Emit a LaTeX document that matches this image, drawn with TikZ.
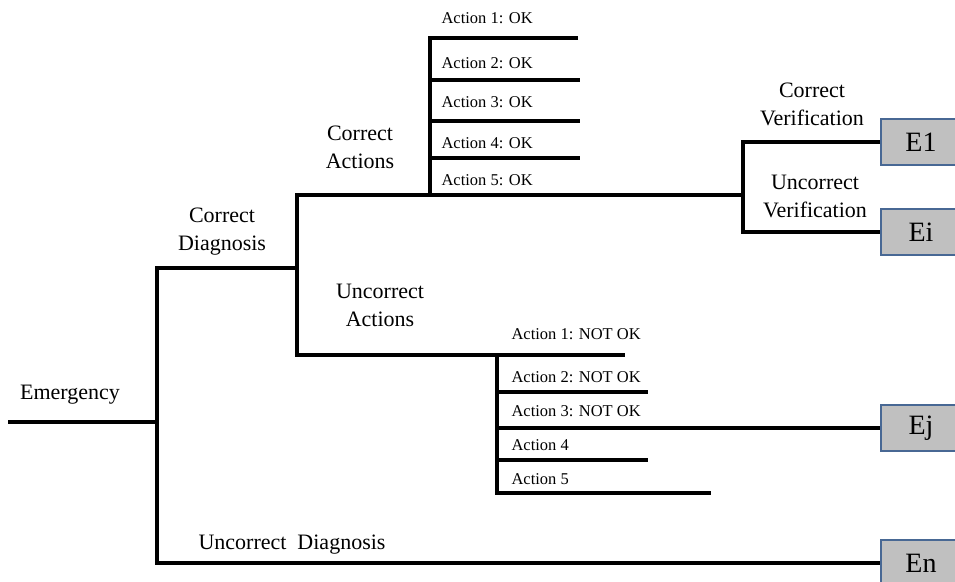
\documentclass[tikz,border=0pt]{standalone}
\usepackage{fontspec}
\setmainfont{Liberation Serif}

\definecolor{boxgray}{RGB}{192,192,192}
\definecolor{boxblue}{RGB}{72,104,148}

\tikzset{
	branch/.style = {line width=4.5pt, line join=miter},
	endbox/.style = {draw=boxblue, line width=2pt, fill=boxgray, anchor=west,
		minimum width=80pt, minimum height=46pt, inner sep=0pt,
		font=\fontsize{28}{30}\selectfont},
	bigtext/.style = {font=\fontsize{22}{28}\selectfont, align=center},
	smalltext/.style = {font=\fontsize{16.5}{18}\selectfont, anchor=west},
}

\begin{document}
\begin{tikzpicture}[x=1pt, y=-1pt]
		\useasboundingbox (0, 0) rectangle (955, 581);
		\clip (0, 0) rectangle (955, 581);

		% end states
		\path (880, 142) node (E1) [endbox] {E1};
		\path (880, 232) node (Ei) [endbox] {Ei};
		\path (880, 428) node (Ej) [endbox] {Ej};
		\path (880, 563) node (En) [endbox] {En};

		% junctions of the tree
		\coordinate (emer) at (8, 422);
		\coordinate (diag) at (157, 422);
		\coordinate (cdiag) at (297, 268);
		\coordinate (verif) at (743, 195);
		\coordinate (cact) at (430, 195);
		\coordinate (uact) at (497, 355);
		\coordinate (ok1) at (578, 38);
		\coordinate (nok1) at (625, 355);
		\foreach \i/\y in {2/80, 3/121, 4/158}
			\coordinate (ok\i) at (580, \y);
		\coordinate (nok2) at (648, 392);
		\coordinate (nok4) at (648, 460);
		\coordinate (nok5) at (711, 493);

		% diagnosis
		\draw[branch] (emer) -- (diag);
		\draw[branch] (cdiag) -| (diag) |- (En.west);

		% actions
		\draw[branch] (verif) -| (cdiag) |- (nok1);
		\draw[branch] (ok1) -| (cact);
		\foreach \i in {2, 3, 4}
			\draw[branch] (ok\i -| cact) -- (ok\i);
		\draw[branch] (uact) |- (nok5);
		\draw[branch] (nok2 -| uact) -- (nok2);
		\draw[branch] (Ej.west -| uact) -- (Ej.west);
		\draw[branch] (nok4 -| uact) -- (nok4);

		% verification
		\draw[branch] (E1.west) -| (verif) |- (Ei.west);

		% labels
		\path (70, 395) node (lemer) [bigtext] {Emergency};
		\path (222, 232) node (lcdiag) [bigtext] {Correct\\Diagnosis};
		\path (360, 147) node (lcact) [bigtext] {Correct\\Actions};
		\path (380, 305) node (luact) [bigtext] {Uncorrect\\Actions};
		\path (812, 104) node (lcver) [bigtext] {Correct\\Verification};
		\path (815, 196) node (luver) [bigtext] {Uncorrect\\Verification};
		\path (195, 545) node (ludiag) [bigtext, anchor=west] {Uncorrect\ \ Diagnosis};

		\path (438, 18) node (lok1) [smalltext] {Action 1: OK};
		\path (438, 63) node (lok2) [smalltext] {Action 2: OK};
		\path (438, 102) node (lok3) [smalltext] {Action 3: OK};
		\path (438, 143) node (lok4) [smalltext] {Action 4: OK};
		\path (438, 180) node (lok5) [smalltext] {Action 5: OK};

		\path (508, 334) node (lnok1) [smalltext] {Action 1: NOT OK};
		\path (508, 377) node (lnok2) [smalltext] {Action 2: NOT OK};
		\path (508, 411) node (lnok3) [smalltext] {Action 3: NOT OK};
		\path (508, 445) node (lnok4) [smalltext] {Action 4};
		\path (508, 479) node (lnok5) [smalltext] {Action 5};
	\end{tikzpicture}
\end{document}
